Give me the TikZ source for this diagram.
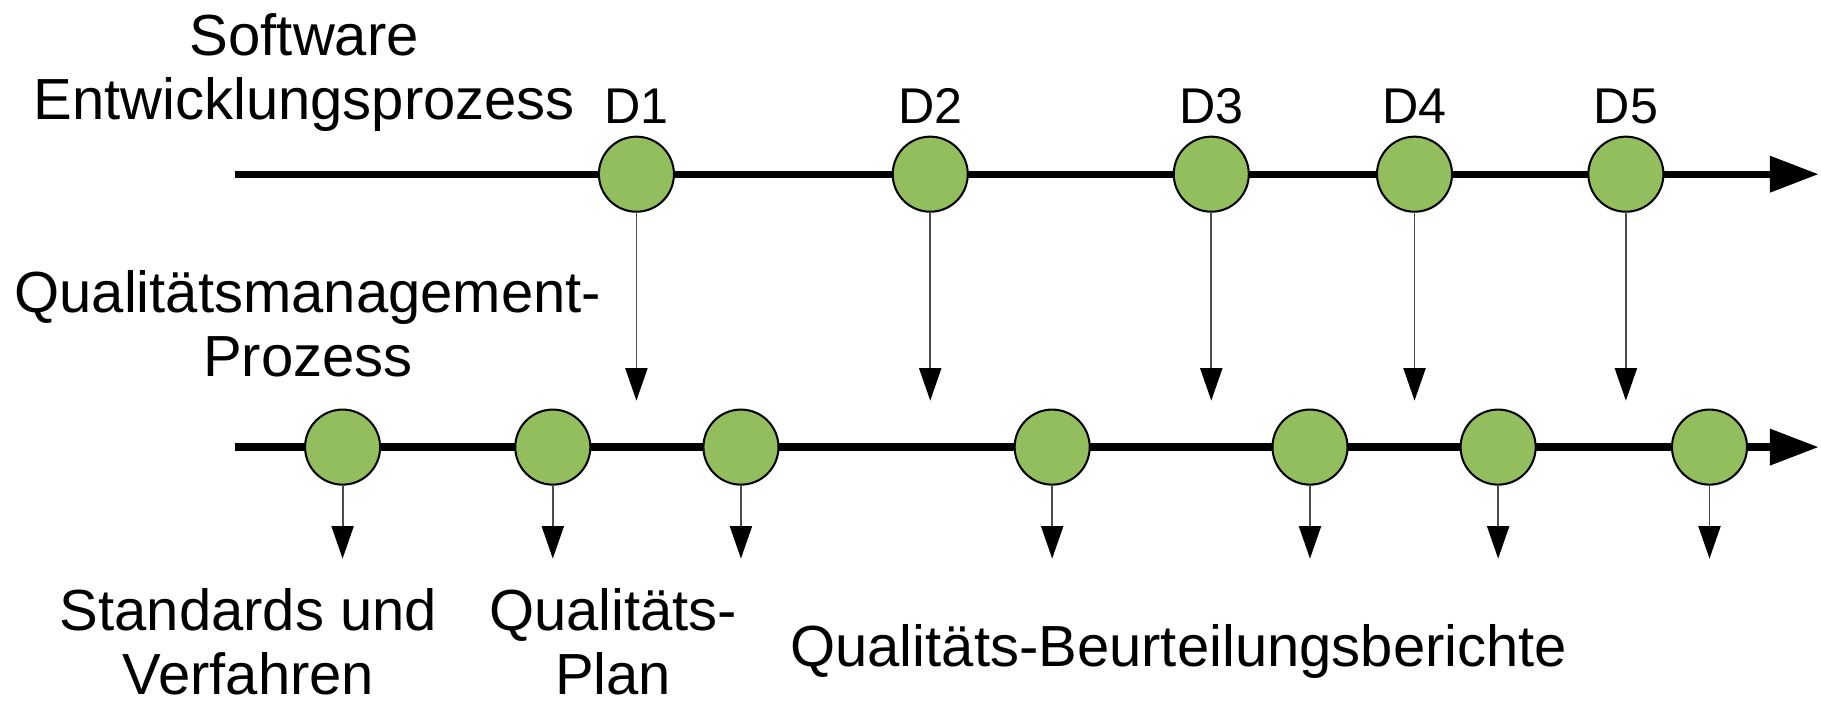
\documentclass[tikz,border=0pt]{standalone}
\usepackage{fontspec}
\setmainfont{Liberation Sans}
\usetikzlibrary{arrows.meta}

\definecolor{punktgruen}{RGB}{146,190,94}

\tikzset{
  punkt/.style={circle,draw=black,line width=0.5pt,fill=punktgruen,minimum size=0.646cm,inner sep=0pt},
  zeitachse/.style={line width=1.8pt,-{Triangle[length=0.42cm,width=0.30cm]}},
  pfeil/.style={draw=black!70,line width=0.45pt,-{Triangle[length=0.28cm,width=0.19cm,color=black]}},
  txt/.style={font=\fontsize{14.2}{15.65}\selectfont,align=center,inner sep=0pt},
  dtxt/.style={font=\fontsize{12.3}{14}\selectfont,inner sep=0pt}
}

\begin{document}
\begin{tikzpicture}[x=0.01cm,y=-0.01cm]
  \useasboundingbox (0,0) rectangle (1568,604);

  % zwei Zeitachsen
  \coordinate (a1) at (202,150);
  \coordinate (a2) at (1566,150);
  \coordinate (b1) at (202,385);
  \coordinate (b2) at (1566,385);
  \draw[zeitachse] (a1) -- (a2);
  \draw[zeitachse] (b1) -- (b2);

  % Dokumente D1 bis D5 (Entwicklung)
  \foreach \n/\x in {1/548,2/801,3/1043,4/1218,5/1400} {
    \node[punkt] (d\n) at (\x,150) {};
    \node[dtxt,anchor=base] (ld\n) at (\x,106) {D\n};
    \coordinate (e\n) at (\x,345);
    \draw[pfeil] (d\n.south) -- (e\n);
  }

  % Punkte im Qualitaetsmanagement
  \foreach \n/\x in {1/295,2/476,3/638,4/906,5/1128,6/1290,7/1472} {
    \node[punkt] (q\n) at (\x,385) {};
    \coordinate (f\n) at (\x,481);
    \draw[pfeil] (q\n.south) -- (f\n);
  }

  % Beschriftungen
  \node[txt,anchor=base] (swe) at (262,103) {Software\\Entwicklungsprozess};
  \node[txt,anchor=base] (qmp) at (265,324) {Qualitätsmanagement-\\Prozess};
  \node[txt,anchor=base] (std) at (214,598) {Standards und\\Verfahren};
  \node[txt,anchor=base] (qpl) at (528,598) {Qualitäts-\\Plan};
  \node[txt,anchor=base] (qbb) at (1015,574) {Qualitäts-Beurteilungsberichte};
\end{tikzpicture}
\end{document}
